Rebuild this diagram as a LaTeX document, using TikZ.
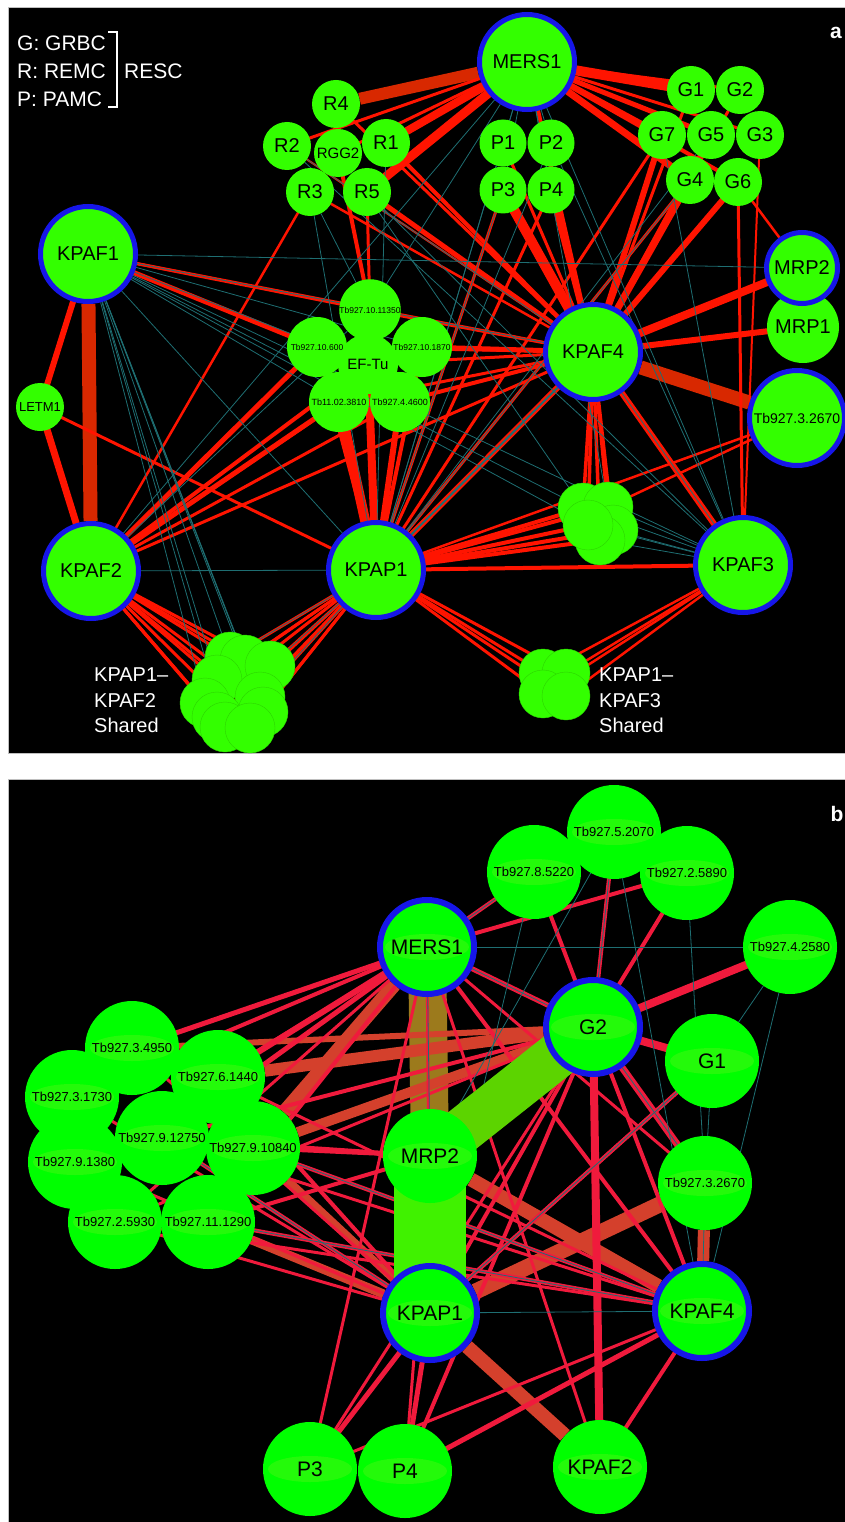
\documentclass[tikz,border=0pt]{standalone}
\usepackage{fontspec}
\setmainfont{Liberation Sans}
\newcommand{\pfont}[1]{\fontsize{#1}{#1}\selectfont}
\definecolor{nodeA}{HTML}{33FF00}
\definecolor{blobline}{HTML}{2CD400}
\definecolor{nodeB}{HTML}{00FF00}
\definecolor{bandB}{HTML}{24FA0A}
\definecolor{ringblue}{HTML}{1616E8}
\definecolor{redA}{HTML}{FF1400}
\definecolor{rustA}{HTML}{D82800}
\definecolor{tealA}{HTML}{1E6E72}
\definecolor{redB}{HTML}{F01A3C}
\definecolor{rustB}{HTML}{D4402C}
\definecolor{oliveB}{HTML}{9C7A1C}
\definecolor{limeB}{HTML}{5CD400}
\definecolor{greenB}{HTML}{40F200}
\pgfdeclarelayer{panel}
\pgfdeclarelayer{edges}
\pgfsetlayers{panel,edges,main}

\begin{document}
\begin{tikzpicture}[x=1pt, y=-1pt,
  prot/.style={circle, fill=nodeA, inner sep=0pt, minimum size=48pt, font=\pfont{20}},
  hubA/.style={prot, draw=ringblue, line width=5pt, minimum size=95pt},
  efu/.style={prot, minimum size=60pt, font=\pfont{8.5}},
  blob/.style={circle, fill=nodeA, draw=blobline, line width=0.4pt, inner sep=0pt, minimum size=#1},
  blob/.default=50pt,
  protB/.style={circle, fill=nodeB, inner sep=0pt, minimum size=94pt, font=\pfont{13},
    path picture={\fill[bandB] (path picture bounding box.center) ellipse (42pt and 13pt);}},
  hubB/.style={protB, draw=ringblue, line width=6pt, font=\pfont{21}},
  ppiA/.style={draw=redA, line cap=round},
  ppiB/.style={draw=redB, line cap=round},
  coexp/.style={draw=tealA, line width=0.8pt},
  legtxt/.style={text=white, font=\pfont{21}, inner sep=0pt}
]
\useasboundingbox (0,0) rectangle (845,1522);
\begin{pgfonlayer}{panel}
\fill[white] (0,0) rectangle (845,1522);
\draw[black!25, fill=black, line width=0.8pt] (8,7) rectangle (845,753);
\draw[black!25, fill=black, line width=0.8pt] (8,779) rectangle (845,1522);
\end{pgfonlayer}

% ---- panel a
\node[hubA] (aMERS1) at (527,62) {MERS1};
\node[prot] (aR2) at (287,146) {R2};
\node[prot] (aR4) at (336,104) {R4};
\node[prot, font=\pfont{15}] (aRGG2) at (338,153) {RGG2};
\node[prot] (aR1) at (386,143) {R1};
\node[prot] (aR3) at (310,192) {R3};
\node[prot] (aR5) at (367,192) {R5};
\node[prot, minimum size=47pt] (aP1) at (503,143) {P1};
\node[prot, minimum size=47pt] (aP2) at (551,143) {P2};
\node[prot, minimum size=47pt] (aP3) at (503,190) {P3};
\node[prot, minimum size=47pt] (aP4) at (551,190) {P4};
\node[prot] (aG1) at (691,90) {G1};
\node[prot] (aG2) at (740,90) {G2};
\node[prot] (aG7) at (662,135) {G7};
\node[prot] (aG5) at (711,135) {G5};
\node[prot] (aG3) at (760,135) {G3};
\node[prot] (aG4) at (690,180) {G4};
\node[prot] (aG6) at (738,182) {G6};
\node[hubA] (aKPAF1) at (88,254) {KPAF1};
\node[prot, font=\pfont{13}] (aLETM1) at (40,407) {LETM1};
\node[hubA] (aKPAF2) at (91,571) {KPAF2};
\node[hubA] (aKPAP1) at (376,570) {KPAP1};
\node[hubA] (aKPAF4) at (593,352) {KPAF4};
\node[prot, minimum size=72pt] (aMRP1) at (803,327) {MRP1};
\node[hubA, minimum size=71pt] (aMRP2) at (802,268) {MRP2};
\node[hubA, font=\pfont{14}] (aT2670) at (797,418) {Tb927.3.2670};
\node[hubA] (aKPAF3) at (743,565) {KPAF3};
\node[efu, font=\pfont{15}] (aEFTu) at (368,364) {EF-Tu};
\node[efu] (aT11350) at (370,310) {Tb927.10.11350};
\node[efu] (aT600) at (317,347) {Tb927.10.600};
\node[efu] (aT1870) at (422,347) {Tb927.10.1870};
\node[efu, font=\pfont{9}] (aT3810) at (339,402) {Tb11.02.3810};
\node[efu, font=\pfont{9}] (aT4600) at (400,402) {Tb927.4.4600};
\foreach \n/\x/\y in {ca1/583/508, ca2/608/507, ca3/613/530, ca4/600/540, ca5/588/525}
  \node[blob] (\n) at (\x,\y) {};
\foreach \n/\x/\y in {cb1/230/657, cb2/245/660, cb3/270/666, cb4/217/680, cb5/260/697,
    cb6/205/703, cb7/217/717, cb8/263/712, cb9/225/727, cb10/250/728}
  \node[blob] (\n) at (\x,\y) {};
\foreach \n/\x/\y in {cc1/543/673, cc2/566/673, cc3/543/694, cc4/566/696}
  \node[blob=48pt] (\n) at (\x,\y) {};

\node[legtxt, anchor=west] (legG) at (17,43) {G: GRBC};
\node[legtxt, anchor=west] (legR) at (17,71) {R: REMC};
\node[legtxt, anchor=west] (legP) at (17,99) {P: PAMC};
\node[legtxt, anchor=west] (legRESC) at (124,71) {RESC};
\draw[white, line width=1.5pt] (108,32) -- (117,32) -- (117,107) -- (108,107);
\node[legtxt, anchor=north west, align=left, font=\fontsize{20}{25.5}\selectfont]
  (shareB) at (94,668) {KPAP1--\\KPAF2\\Shared};
\node[legtxt, anchor=north west, align=left, font=\fontsize{20}{25.5}\selectfont]
  (shareC) at (599,668) {KPAP1--\\KPAF3\\Shared};
\node[legtxt, font=\bfseries\pfont{21}] (labA) at (836,33) {a};

\begin{pgfonlayer}{edges}
\foreach \u/\v/\w in {aKPAF1/aKPAF2/14, aKPAF4/aT2670/14, aMERS1/aR4/12}
  \draw[draw=rustA, line width=\w pt] (\u) -- (\v);
\foreach \u/\v/\w in {aMERS1/aR1/8, aMERS1/aR5/9, aMERS1/aRGG2/3, aMERS1/aR2/3,
    aMERS1/aG1/10, aMERS1/aG7/6, aMERS1/aG5/5, aMERS1/aG4/7, aMERS1/aG6/4, aMERS1/aG3/3,
    aMERS1/aG2/3, aMERS1/aKPAF4/4, aR1/aKPAF4/4, aR5/aKPAF4/5, aR3/aKPAF2/2.5,
    aRGG2/aT11350/4, aR4/aKPAF4/3, aR3/aKPAF4/2.5, aR2/aKPAF4/2,
    aKPAF1/aLETM1/6, aLETM1/aKPAF2/7, aLETM1/aKPAP1/3, aKPAF1/aT11350/3, aKPAF1/aT600/5,
    aKPAF1/aKPAF4/3, aKPAF2/aT600/5, aKPAF2/aT3810/5, aKPAF2/aEFTu/4, aKPAF2/aT4600/3,
    aKPAF2/aKPAF4/3, aKPAF2/aT1870/3, aKPAP1/aT3810/10, aKPAP1/aEFTu/8, aKPAP1/aT4600/6,
    aKPAP1/aT600/3, aKPAP1/aT1870/4, aKPAP1/aP3/3, aKPAP1/aP4/3, aKPAP1/aKPAF4/6,
    aKPAP1/aR5/3, aKPAP1/aKPAF3/4, aKPAP1/aG7/3, aKPAP1/aG4/3, aKPAF4/aP3/10, aKPAF4/aP4/6,
    aKPAF4/aP1/3, aKPAF4/aG7/6, aKPAF4/aG4/7, aKPAF4/aG6/6, aKPAF4/aG5/4, aKPAF4/aG1/3,
    aKPAF4/aMRP2/8, aKPAF4/aMRP1/6, aKPAF4/aT1870/5, aKPAF4/aT4600/4, aKPAF4/aT11350/3,
    aKPAF4/aEFTu/3, aKPAF4/aKPAF3/6, aKPAF4/aT600/3, aKPAF4/aT3810/3, aG6/aKPAF3/3,
    aG6/aMRP2/2.5, aG3/aKPAF3/2, aG2/aKPAF4/3, aT2670/ca2/2.5, aT2670/aKPAP1/2.5}
  \draw[ppiA, line width=\w pt] (\u) -- (\v);
\foreach \c in {ca1,ca2,ca3,ca4,ca5} {
  \draw[ppiA, line width=4pt] (aKPAP1) -- (\c);
  \draw[ppiA, line width=3.5pt] (aKPAF4) -- (\c);
  \draw[coexp] (\c) -- (aKPAF3);
}
\foreach \c in {cb1,cb2,cb3,cb4,cb5,cb6,cb7,cb8,cb9,cb10} {
  \draw[ppiA, line width=3pt] (aKPAF2) -- (\c);
  \draw[ppiA, line width=3pt] (aKPAP1) -- (\c);
}
\foreach \c in {cc1,cc2,cc3,cc4} {
  \draw[ppiA, line width=2.5pt] (aKPAF3) -- (\c);
  \draw[ppiA, line width=3pt] (aKPAP1) -- (\c);
}
\foreach \c in {cb1,cb2,cb4,cb5,cb6,cb8,cb9}
  \draw[coexp] (aKPAF1) -- (\c);
\foreach \c in {cb1,cb3,cb5}
  \draw[coexp] (aKPAP1) -- (\c);
\foreach \u/\v in {aKPAF1/aKPAF4, aKPAF1/aMRP2, aKPAF1/ca1, aKPAF1/aKPAP1, aKPAF1/aEFTu,
    aKPAF1/aT3810, aKPAF1/aKPAF3, aKPAF1/aT1870, aKPAF1/ca5, aMERS1/aKPAP1, aMERS1/ca2,
    aMERS1/aP3, aMERS1/aP4, aMERS1/aP1, aMERS1/aP2, aMERS1/aT11350, aMERS1/aKPAF3,
    aMERS1/aKPAF2, aR2/aKPAF4, aR3/aKPAP1, aRGG2/ca1, aR5/aKPAF3, aR3/aT11350,
    aR2/aKPAF3, aKPAF2/aKPAP1, aKPAF2/aT11350, aKPAF4/aKPAF3, aG7/aKPAF3, aP2/aKPAF3,
    aG4/aKPAP1, aP1/aKPAP1, aP3/aKPAP1, aR1/aKPAP1, aG5/aKPAP1, aP2/aKPAP1}
  \draw[coexp] (\u) -- (\v);
\draw[coexp, line width=2pt] (aKPAP1) -- (aKPAF4);
\end{pgfonlayer}

% ---- panel b
\node[protB] (bT2070) at (614,832) {Tb927.5.2070};
\node[protB] (bT5220) at (534,872) {Tb927.8.5220};
\node[protB] (bT5890) at (687,873) {Tb927.2.5890};
\node[protB] (bT2580) at (790,947) {Tb927.4.2580};
\node[hubB] (bMERS1) at (427,947) {MERS1};
\node[hubB] (bG2) at (593,1027) {G2};
\node[protB, font=\pfont{21}] (bG1) at (712,1061) {G1};
\node[protB] (bT2670) at (705,1183) {Tb927.3.2670};
\node[protB, font=\pfont{21}] (bMRP2) at (430,1156) {MRP2};
\node[hubB] (bKPAP1) at (430,1313) {KPAP1};
\node[hubB] (bKPAF4) at (702,1311) {KPAF4};
\node[protB, font=\pfont{21}] (bP3) at (310,1469) {P3};
\node[protB, font=\pfont{21}] (bP4) at (405,1471) {P4};
\node[protB, font=\pfont{21}] (bKPAF2) at (600,1467) {KPAF2};
\node[protB] (bT4950) at (132,1048) {Tb927.3.4950};
\node[protB] (bT1380) at (75,1162) {Tb927.9.1380};
\node[protB] (bT1730) at (72,1097) {Tb927.3.1730};
\node[protB] (bT12750) at (162,1138) {Tb927.9.12750};
\node[protB] (bT10840) at (253,1148) {Tb927.9.10840};
\node[protB] (bT1440) at (218,1077) {Tb927.6.1440};
\node[protB] (bT5930) at (115,1222) {Tb927.2.5930};
\node[protB] (bT1290) at (208,1222) {Tb927.11.1290};
\node[legtxt, font=\bfseries\pfont{21}] (labB) at (837,814) {b};

\begin{pgfonlayer}{edges}
\draw[draw=oliveB, line width=38pt] (bMERS1.center) -- (bMRP2.center);
\foreach \u/\v/\w in {bKPAP1/bKPAF2/14, bKPAP1/bT2670/16, bMRP2/bKPAF4/14,
    bT2670/bKPAF4/12, bG2/bT1440/12, bG2/bT10840/10, bMERS1/bT10840/14,
    bKPAP1/bT10840/8, bG2/bT4950/6, bKPAP1/bT1290/9}
  \draw[draw=rustB, line width=\w pt] (\u) -- (\v);
\foreach \u/\v/\w in {bMERS1/bT5220/4, bMERS1/bT5890/4, bMERS1/bT4950/5, bMERS1/bT1730/4,
    bMERS1/bT1440/6, bMERS1/bT12750/5, bMERS1/bT1380/3, bMERS1/bT5930/3, bMERS1/bT1290/4,
    bMERS1/bKPAF4/4, bMERS1/bT2670/3, bMERS1/bP3/3, bMERS1/bKPAF2/3, bMERS1/bG2/5,
    bMERS1/bKPAP1/3, bG2/bT2070/4, bG2/bT5220/4, bG2/bT5890/4, bG2/bT2580/8, bG2/bG1/8,
    bG2/bT2670/7, bG2/bKPAF2/8, bG2/bKPAF4/4, bG2/bKPAP1/4, bG2/bP3/3, bG2/bP4/4,
    bG2/bT12750/4, bG2/bT5930/3, bKPAP1/bT12750/4, bKPAP1/bT5930/3, bKPAP1/bT1440/4,
    bKPAP1/bT1380/3, bKPAP1/bT1730/3, bKPAP1/bP3/5, bKPAP1/bP4/5, bKPAP1/bG1/4,
    bKPAP1/bT4950/3, bMRP2/bT10840/4, bMRP2/bT1290/4, bMRP2/bT12750/4, bMRP2/bP4/3,
    bKPAF4/bT1290/4, bKPAF4/bT10840/4, bKPAF4/bT12750/3, bKPAF4/bP4/5, bKPAF4/bKPAF2/4,
    bKPAF4/bT1440/3, bKPAF4/bT5930/3, bKPAF4/bP3/3, bG1/bKPAP1/4, bT5890/bG2/3}
  \draw[ppiB, line width=\w pt] (\u) -- (\v);
\foreach \u/\v in {bMERS1/bT2580, bMERS1/bG2, bMERS1/bMRP2, bMERS1/bT5220, bKPAP1/bKPAF4,
    bG1/bT2580, bT2580/bKPAF4, bG1/bT2670, bG1/bKPAP1, bT5890/bT2670, bT2070/bG2,
    bT2070/bMRP2, bT10840/bKPAF4, bT1290/bKPAF4, bT12750/bKPAP1, bT2670/bKPAF4,
    bT5220/bKPAP1, bT2070/bKPAF4, bG2/bT2670}
  \draw[coexp] (\u) -- (\v);
\draw[draw=limeB, line width=46pt] (bMRP2.center) -- (bG2.center);
\draw[draw=greenB, line width=72pt] (bMRP2.center) -- (bKPAP1.center);
\end{pgfonlayer}
\end{tikzpicture}
\end{document}
